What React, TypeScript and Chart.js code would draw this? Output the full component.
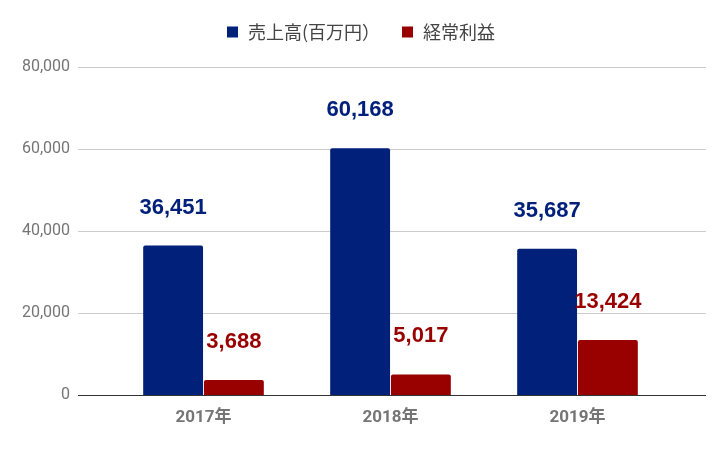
import React, { useEffect, useRef } from "react";
import { Chart, registerables } from "chart.js";

Chart.register(...registerables);

const categories = ["2017年", "2018年", "2019年"];
const salesLabel = "売上高(百万円）";
const profitLabel = "経常利益";
const sales = [36451, 60168, 35687];
const profit = [3688, 5017, 13424];
const yTicks = [0, 20000, 40000, 60000, 80000];

const BLUE = "#00207a";
const RED = "#990000";
const FONT = "Roboto, 'Noto Sans CJK JP', sans-serif";
const LABEL_FONT = "'Liberation Sans', Arial, sans-serif";
const LEGEND_FONT = "'Noto Sans CJK JP', sans-serif";

const W = 726;
const H = 449;

const fmt = (v: number) => v.toLocaleString("en-US");

const gridPlugin = {
  id: "wideGrid",
  beforeDatasetsDraw(chart: any) {
    const ctx = chart.ctx;
    const y = chart.scales.y;
    ctx.save();
    for (const t of yTicks) {
      const py = Math.round(y.getPixelForValue(t)) + 0.5;
      ctx.beginPath();
      ctx.strokeStyle = t === 0 ? "#333333" : "#cccccc";
      ctx.lineWidth = 1;
      ctx.moveTo(78, py);
      ctx.lineTo(706, py);
      ctx.stroke();
    }
    ctx.restore();
  },
};

const labelPlugin = {
  id: "valueLabels",
  afterDatasetsDraw(chart: any) {
    const ctx = chart.ctx;
    ctx.save();
    ctx.font = `bold 22px ${LABEL_FONT}`;
    ctx.textAlign = "center";
    ctx.textBaseline = "alphabetic";
    chart.data.datasets.forEach((ds: any, di: number) => {
      const meta = chart.getDatasetMeta(di);
      meta.data.forEach((bar: any, i: number) => {
        ctx.fillStyle = ds.backgroundColor;
        ctx.fillText(fmt(ds.data[i]), bar.x, bar.y - 32);
      });
    });
    ctx.restore();
  },
};

const legendPlugin = {
  id: "customLegend",
  afterDraw(chart: any) {
    const ctx = chart.ctx;
    ctx.save();
    ctx.font = `18px ${LEGEND_FONT}`;
    ctx.textBaseline = "middle";
    const items = [
      { label: salesLabel, color: BLUE, x: 227 },
      { label: profitLabel, color: RED, x: 402 },
    ];
    const box = 11;
    const gapBox = 10;
    const cy = 32;
    items.forEach((it) => {
      ctx.fillStyle = it.color;
      ctx.fillRect(it.x, cy - 5.5, box, box);
      ctx.fillStyle = "#444444";
      ctx.fillText(it.label, it.x + box + gapBox, cy);
    });
    ctx.restore();
  },
};

export default function App() {
  const ref = useRef<HTMLCanvasElement>(null);
  useEffect(() => {
    if (!ref.current) return;
    const chart = new Chart(ref.current, {
      type: "bar",
      data: {
        labels: categories,
        datasets: [
          {
            label: salesLabel,
            data: sales,
            backgroundColor: BLUE,
            borderRadius: { topLeft: 2, topRight: 2, bottomLeft: 0, bottomRight: 0 },
            borderSkipped: false,
            categoryPercentage: 0.65,
            barPercentage: 0.985,
          },
          {
            label: profitLabel,
            data: profit,
            backgroundColor: RED,
            borderRadius: { topLeft: 2, topRight: 2, bottomLeft: 0, bottomRight: 0 },
            borderSkipped: false,
            categoryPercentage: 0.65,
            barPercentage: 0.985,
          },
        ],
      },
      options: {
        responsive: false,
        animation: false,
        devicePixelRatio: 1,
        layout: { padding: { top: 67, right: 55, left: 0, bottom: 0 } },
        plugins: {
          legend: { display: false },
          tooltip: { enabled: false },
        },
        scales: {
          x: {
            grid: { display: false, drawTicks: false },
            border: { display: false },
            ticks: {
              color: "#757575",
              font: { family: FONT, size: 17, weight: "bold" },
              padding: 13,
            },
            afterFit: (s: any) => {
              s.height = 54;
            },
          },
          y: {
            min: 0,
            max: 80000,
            grid: { display: false, drawTicks: false },
            border: { display: false },
            afterBuildTicks: (s: any) => {
              s.ticks = yTicks.map((v) => ({ value: v }));
            },
            ticks: {
              color: "#757575",
              font: { family: FONT, size: 16 },
              padding: 40,
              callback: (v: any) => fmt(Number(v)),
            },
            afterFit: (s: any) => {
              s.width = 110;
            },
          },
        },
      },
      plugins: [gridPlugin, labelPlugin, legendPlugin],
    });
    return () => chart.destroy();
  }, []);
  return (
    <div style={{ position: "absolute", left: 0, top: 0, width: W, height: H, background: "#fff" }}>
      <canvas ref={ref} width={W} height={H} style={{ width: W, height: H }} />
    </div>
  );
}
